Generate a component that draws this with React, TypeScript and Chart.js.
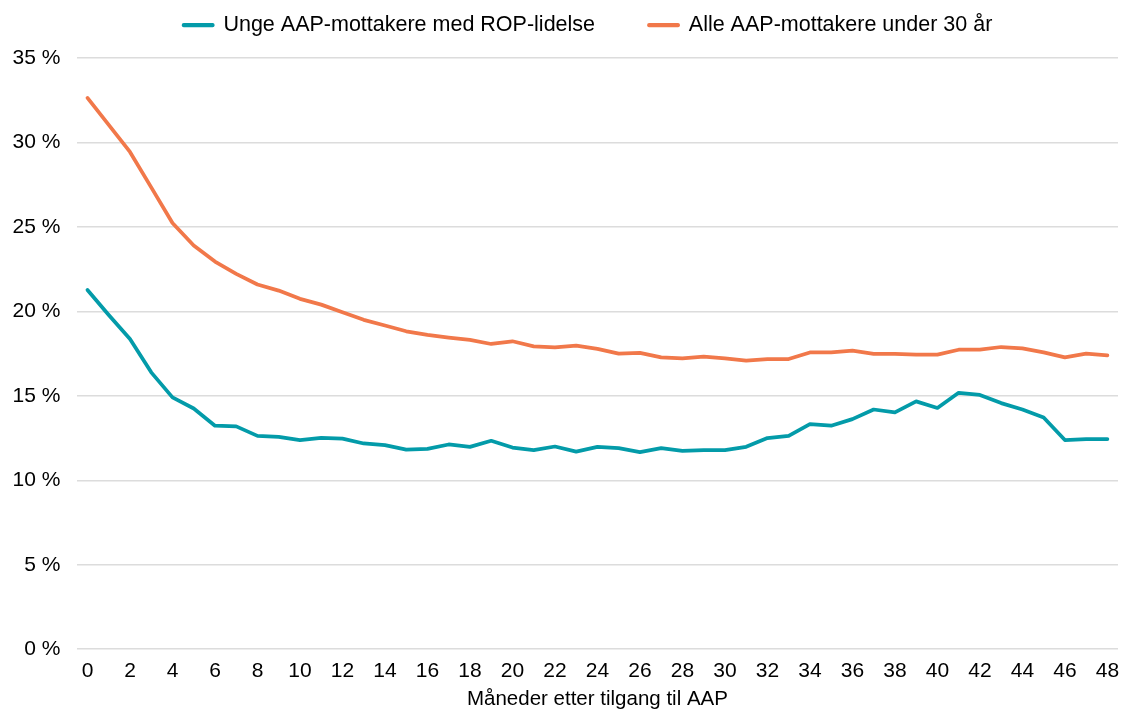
import React, { useEffect, useRef } from "react";
import { Chart, registerables } from "chart.js";

Chart.register(...registerables);

const months: string[] = [
  "0", "1", "2", "3", "4", "5", "6", "7", "8", "9",
  "10", "11", "12", "13", "14", "15", "16", "17", "18", "19",
  "20", "21", "22", "23", "24", "25", "26", "27", "28", "29",
  "30", "31", "32", "33", "34", "35", "36", "37", "38", "39",
  "40", "41", "42", "43", "44", "45", "46", "47", "48",
];

const ropSeries: number[] = [
  21.27, 19.79, 18.37, 16.39, 14.91, 14.25, 13.23, 13.19, 12.63, 12.57,
  12.38, 12.51, 12.47, 12.18, 12.08, 11.82, 11.86, 12.12, 11.98, 12.34,
  11.94, 11.78, 12.0, 11.7, 11.98, 11.9, 11.67, 11.9, 11.74, 11.78,
  11.78, 11.98, 12.5, 12.63, 13.33, 13.23, 13.62, 14.19, 14.02, 14.67,
  14.28, 15.18, 15.05, 14.57, 14.19, 13.72, 12.38, 12.44, 12.44,
];

const allSeries: number[] = [
  32.64, 31.04, 29.44, 27.34, 25.23, 23.9, 22.95, 22.22, 21.59, 21.23,
  20.74, 20.4, 19.95, 19.5, 19.16, 18.82, 18.61, 18.45, 18.31, 18.07,
  18.23, 17.93, 17.87, 17.97, 17.78, 17.5, 17.54, 17.28, 17.22, 17.32,
  17.22, 17.08, 17.17, 17.18, 17.57, 17.57, 17.67, 17.48, 17.48, 17.44,
  17.44, 17.73, 17.73, 17.89, 17.81, 17.57, 17.28, 17.5, 17.4,
];

const seriesLabels: string[] = [
  "Unge AAP-mottakere med ROP-lidelse",
  "Alle AAP-mottakere under 30 år",
];
const seriesColors: string[] = ["#039ba9", "#f1784a"];
const xTitle = "Måneder etter tilgang til AAP";

const FONT = "'Liberation Sans', Arial, Helvetica, sans-serif";
const LEGEND_SPACE = 58;
const LEGEND_DY = -39.75;
const LEGEND_DX = 31;

const legendLayoutPlugin = {
  id: "legendLayout",
  beforeUpdate(chart: any) {
    const lg = chart.legend;
    if (lg && !lg._patched) {
      const orig = lg.fit;
      lg.fit = function () {
        orig.call(this);
        this.height = LEGEND_SPACE;
      };
      lg._patched = true;
    }
  },
  afterLayout(chart: any) {
    const lg = chart.legend;
    if (!lg) return;
    lg.top += LEGEND_DY;
    lg.left += LEGEND_DX;
    lg.right += LEGEND_DX;
  },
};

export default function App() {
  const ref = useRef<HTMLCanvasElement | null>(null);

  useEffect(() => {
    if (!ref.current) return;
    const chart = new Chart(ref.current, {
      type: "line",
      data: {
        labels: months,
        datasets: [
          {
            label: seriesLabels[0],
            data: ropSeries,
            borderColor: seriesColors[0],
            backgroundColor: seriesColors[0],
            borderWidth: 3.75,
            pointRadius: 0,
            tension: 0,
            borderJoinStyle: "round",
            borderCapStyle: "round",
          },
          {
            label: seriesLabels[1],
            data: allSeries,
            borderColor: seriesColors[1],
            backgroundColor: seriesColors[1],
            borderWidth: 3.75,
            pointRadius: 0,
            tension: 0,
            borderJoinStyle: "round",
            borderCapStyle: "round",
          },
        ],
      },
      options: {
        animation: false,
        responsive: false,
        maintainAspectRatio: false,
        layout: { padding: { top: 0, left: -4, right: 3, bottom: 0 } },
        plugins: {
          legend: {
            display: true,
            position: "top",
            labels: {
              color: "#000",
              font: { family: FONT, size: 21.5 },
              boxWidth: 29,
              boxHeight: 0.5,
              padding: 54,
            },
          },
          tooltip: { enabled: false },
        },
        scales: {
          x: {
            type: "category",
            offset: true,
            grid: { display: false, drawTicks: true, tickLength: 8 },
            border: { display: false },
            ticks: {
              color: "#000",
              font: { family: FONT, size: 21 },
              autoSkip: false,
              maxRotation: 0,
              padding: 1,
              callback: function (this: any, value: any, index: number) {
                return index % 2 === 0 ? months[index] : "";
              },
            },
            title: {
              display: true,
              text: xTitle,
              color: "#000",
              font: { family: FONT, size: 20.5 },
              padding: { top: 3, bottom: 4 },
            },
          },
          y: {
            min: 0,
            max: 35,
            grid: { color: "#dcdcdc", lineWidth: 1.5, drawTicks: false },
            border: { display: false },
            ticks: {
              stepSize: 5,
              color: "#000",
              font: { family: FONT, size: 21 },
              padding: 16.5,
              callback: (v: any) => `${v} %`,
            },
          },
        },
      },
      plugins: [legendLayoutPlugin],
    });
    return () => chart.destroy();
  }, []);

  return (
    <div style={{ position: "fixed", left: 0, top: 0, width: 1121, height: 716, background: "#fff" }}>
      <canvas ref={ref} width={1121} height={716} style={{ display: "block" }} />
    </div>
  );
}
